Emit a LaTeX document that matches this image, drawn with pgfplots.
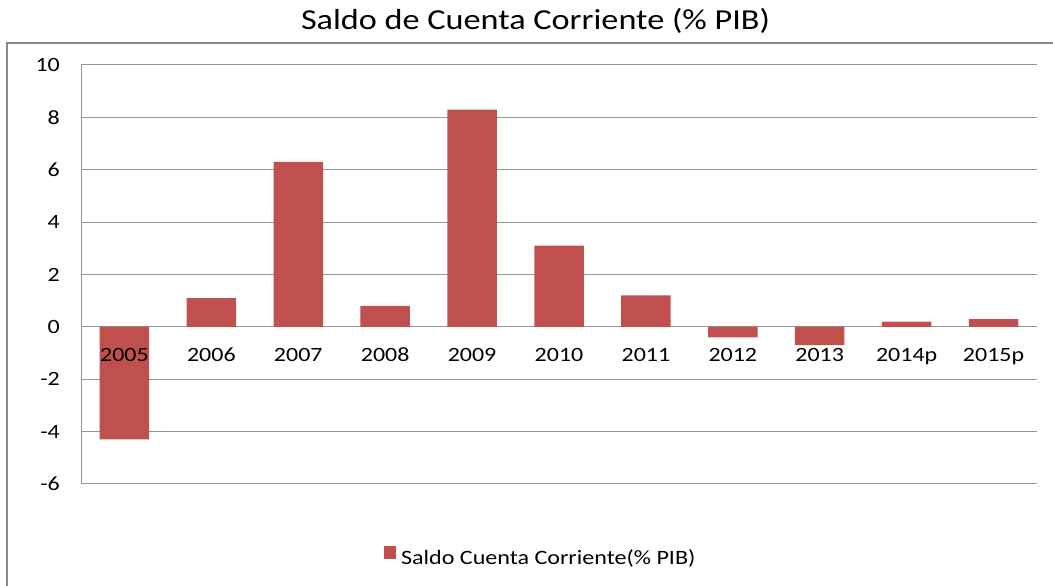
\documentclass[border=0pt]{standalone}
\usepackage{fontspec}
\setmainfont[FakeStretch=1.18]{Carlito}
\usepackage{pgfplots}
\pgfplotsset{compat=1.18}
\definecolor{barred}{HTML}{C0504D}
\definecolor{gridgray}{HTML}{959595}
\definecolor{framegray}{HTML}{8A8A8A}
\tikzset{xlab/.style={anchor=base, inner sep=0pt, yshift=-34.8pt, font=\fontsize{20.3}{24}\selectfont}}
\begin{document}
\begin{tikzpicture}[x=1pt,y=1pt]
\begin{axis}[
  at={(81pt,102pt)}, anchor=south west,
  scale only axis, width=956pt, height=419pt,
  ymin=-6, ymax=10, xmin=-0.5, xmax=10.5,
  ytick={-6,-4,...,10}, yticklabels={-6,-4,-2,0,2,4,6,8,10},
  xtick={0,...,10}, xticklabels={},
  major tick length=0pt,
  axis line style={draw=none},
  ymajorgrids, grid style={draw=gridgray, line width=1pt},
  yticklabel style={anchor=east, inner sep=0pt, xshift=-21pt, font=\fontsize{20.3}{24}\selectfont},
  legend style={at={(0.4807,-0.174)}, anchor=center, draw=none, fill=none,
    font=\fontsize{20.4}{24}\selectfont},
  clip=false,
]
\addplot[ybar, bar width=49.5pt, fill=barred, draw=none,
  legend image code/.code={\fill[barred] (0pt,-1pt) rectangle (12.5pt,11.5pt); \path (15.5pt,0pt);}]
  coordinates {(0,-4.3) (1,1.1) (2,6.3) (3,0.8) (4,8.3) (5,3.1) (6,1.2) (7,-0.4) (8,-0.7) (9,0.2) (10,0.3)};
\addlegendentry{Saldo Cuenta Corriente(\% PIB)}
\draw[gridgray, line width=1pt] (rel axis cs:0,0) -- (rel axis cs:0,1);
\node[xlab] at (axis cs:0,0) {2005};
\node[xlab] at (axis cs:1,0) {2006};
\node[xlab] at (axis cs:2,0) {2007};
\node[xlab] at (axis cs:3,0) {2008};
\node[xlab] at (axis cs:4,0) {2009};
\node[xlab] at (axis cs:5,0) {2010};
\node[xlab] at (axis cs:6,0) {2011};
\node[xlab] at (axis cs:7,0) {2012};
\node[xlab] at (axis cs:8,0) {2013};
\node[xlab] at (axis cs:9,0) {2014p};
\node[xlab] at (axis cs:10,0) {2015p};
\end{axis}
\draw[framegray, line width=2pt] (7,-5) -- (7,543) -- (1060,543);
\node[anchor=base, inner sep=0pt, font=\fontsize{29}{34}\selectfont] at (535.5,556) {Saldo de Cuenta Corriente (\% PIB)};
\pgfresetboundingbox
\useasboundingbox (0,0) rectangle (1053,586);
\end{tikzpicture}
\end{document}
